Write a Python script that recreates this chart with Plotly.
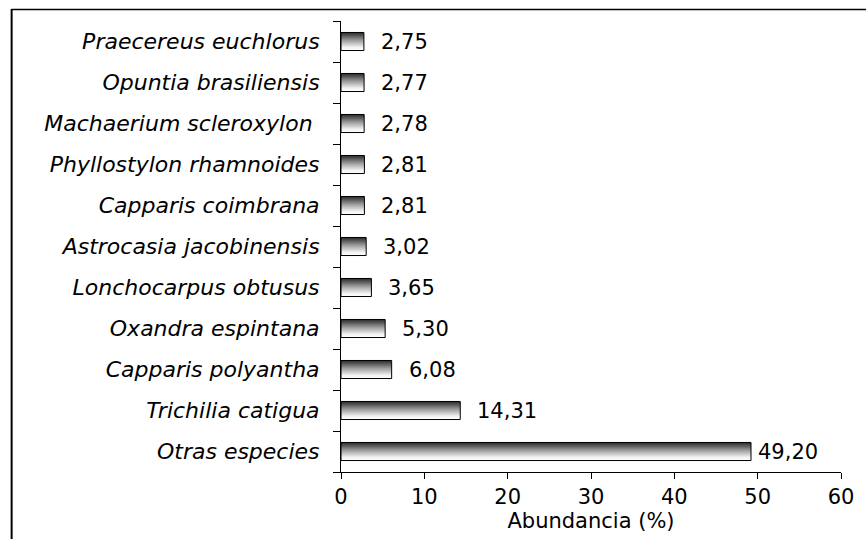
import plotly.graph_objects as go

# Species, listed from the bottom of the chart to the top
species = [
    "Otras especies",
    "Trichilia catigua",
    "Capparis polyantha",
    "Oxandra espintana",
    "Lonchocarpus obtusus",
    "Astrocasia jacobinensis",
    "Capparis coimbrana",
    "Phyllostylon rhamnoides",
    "Machaerium scleroxylon ",
    "Opuntia brasiliensis",
    "Praecereus euchlorus",
]
abundance = [49.20, 14.31, 6.08, 5.30, 3.65, 3.02, 2.81, 2.81, 2.78, 2.77, 2.75]
x_ticks = [0, 10, 20, 30, 40, 50, 60]

W, H = 866, 539
L, R, T, B = 341, 21, 21, 66
half = 0.22  # half bar thickness in category units

NUM_FONT = dict(family="DejaVu Sans", size=21, color="black")
CAT_FONT = dict(family="DejaVu Sans", size=22, color="black", style="italic")

fig = go.Figure()

# Each bar is a closed polygon with a vertical grey gradient (dark top, white bottom)
for i, v in enumerate(abundance):
    fig.add_trace(go.Scatter(
        x=[0, v, v, 0, 0],
        y=[i - half, i - half, i + half, i + half, i - half],
        mode="lines",
        fill="toself",
        line=dict(color="black", width=1),
        fillgradient=dict(
            type="vertical",
            colorscale=[[0, "#ffffff"], [0.18, "#f2f2f2"], [0.55, "#a0a0a0"], [1, "#282828"]],
        ),
        hoverinfo="skip",
        showlegend=False,
    ))

# Value labels next to each bar (decimal comma)
annotations = []
for i, v in enumerate(abundance):
    gap = 5 if v > 40 else 15
    annotations.append(dict(
        x=v, y=i, xref="x", yref="y",
        text=f"{v:.2f}".replace(".", ","),
        showarrow=False, xanchor="left", yanchor="middle",
        xshift=gap, font=NUM_FONT,
    ))

fig.update_layout(
    width=W, height=H, autosize=False,
    margin=dict(l=L, r=R, t=T, b=B, pad=0),
    paper_bgcolor="white", plot_bgcolor="white",
    annotations=annotations,
    xaxis=dict(
        range=[0, 60], tickvals=x_ticks, ticks="outside", ticklen=6,
        tickcolor="black", showline=True, linecolor="black", linewidth=1,
        showgrid=False, zeroline=False, tickfont=NUM_FONT,
        title=dict(text="Abundancia (%)", font=dict(family="DejaVu Sans", size=21, color="black"), standoff=3),
    ),
    yaxis=dict(
        range=[-0.5, len(species) - 0.5],
        tickvals=list(range(len(species))), ticktext=species,
        ticks="", showline=True, linecolor="black", linewidth=1,
        showgrid=False, zeroline=False, tickfont=CAT_FONT,
        ticklabelstandoff=16,
        minor=dict(
            tickvals=[k - 0.5 for k in range(len(species) + 1)],
            ticks="outside", ticklen=7, tickcolor="black", showgrid=False,
        ),
    ),
)

# Frame lines on the left and top of the chart area
pw, ph = W - L - R, H - T - B
def px_x(p):
    return (p - L) / pw
def px_y(p):
    return (H - B - p) / ph

fig.add_shape(type="line", xref="paper", yref="paper",
              x0=px_x(9), x1=px_x(9), y0=px_y(9), y1=px_y(H + 5),
              line=dict(color="black", width=2))
fig.add_shape(type="line", xref="paper", yref="paper",
              x0=px_x(9), x1=px_x(W + 5), y0=px_y(9.5), y1=px_y(9.5),
              line=dict(color="black", width=1.5))

fig.write_html("out.html")
